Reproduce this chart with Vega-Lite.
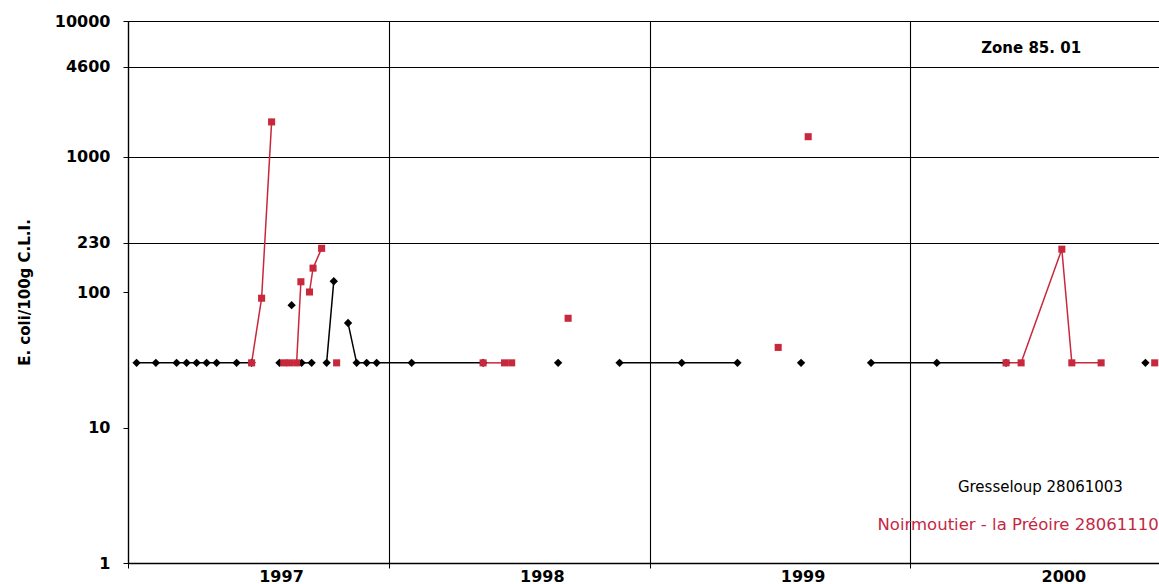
{
  "$schema": "https://vega.github.io/schema/vega-lite/v6.json",
  "width": 1031,
  "height": 542,
  "autosize": {"type": "none"},
  "padding": {"left": 128, "top": 21, "right": 0, "bottom": 21},
  "background": "white",
  "config": {"view": {"stroke": null}, "font": "DejaVu Sans"},
  "datasets": {
    "obs": [
      {"date": "1997-01-13", "value": 30, "series": "Gresseloup 28061003", "seg": "g1"},
      {"date": "1997-02-09", "value": 30, "series": "Gresseloup 28061003", "seg": "g1"},
      {"date": "1997-03-10", "value": 30, "series": "Gresseloup 28061003", "seg": "g1"},
      {"date": "1997-03-24", "value": 30, "series": "Gresseloup 28061003", "seg": "g1"},
      {"date": "1997-04-07", "value": 30, "series": "Gresseloup 28061003", "seg": "g1"},
      {"date": "1997-04-21", "value": 30, "series": "Gresseloup 28061003", "seg": "g1"},
      {"date": "1997-05-05", "value": 30, "series": "Gresseloup 28061003", "seg": "g1"},
      {"date": "1997-06-02", "value": 30, "series": "Gresseloup 28061003", "seg": "g1"},
      {"date": "1997-06-23", "value": 30, "series": "Gresseloup 28061003", "seg": "g1"},
      {"date": "1997-08-01", "value": 30, "series": "Gresseloup 28061003", "seg": "g2"},
      {"date": "1997-08-18", "value": 80, "series": "Gresseloup 28061003", "seg": "g3"},
      {"date": "1997-09-01", "value": 30, "series": "Gresseloup 28061003", "seg": "g4"},
      {"date": "1997-09-15", "value": 30, "series": "Gresseloup 28061003", "seg": "g4"},
      {"date": "1997-10-06", "value": 30, "series": "Gresseloup 28061003", "seg": "g5"},
      {"date": "1997-10-16", "value": 120, "series": "Gresseloup 28061003", "seg": "g5"},
      {"date": "1997-11-05", "value": 59, "series": "Gresseloup 28061003", "seg": "g6"},
      {"date": "1997-11-17", "value": 30, "series": "Gresseloup 28061003", "seg": "g6"},
      {"date": "1997-12-01", "value": 30, "series": "Gresseloup 28061003", "seg": "g6"},
      {"date": "1997-12-15", "value": 30, "series": "Gresseloup 28061003", "seg": "g6"},
      {"date": "1998-02-02", "value": 30, "series": "Gresseloup 28061003", "seg": "g6"},
      {"date": "1998-05-13", "value": 30, "series": "Gresseloup 28061003", "seg": "g6"},
      {"date": "1998-08-26", "value": 30, "series": "Gresseloup 28061003", "seg": "g7"},
      {"date": "1998-11-20", "value": 30, "series": "Gresseloup 28061003", "seg": "g8"},
      {"date": "1999-02-15", "value": 30, "series": "Gresseloup 28061003", "seg": "g8"},
      {"date": "1999-05-04", "value": 30, "series": "Gresseloup 28061003", "seg": "g8"},
      {"date": "1999-08-01", "value": 30, "series": "Gresseloup 28061003", "seg": "g9"},
      {"date": "1999-11-07", "value": 30, "series": "Gresseloup 28061003", "seg": "g10"},
      {"date": "2000-02-07", "value": 30, "series": "Gresseloup 28061003", "seg": "g10"},
      {"date": "2000-05-14", "value": 30, "series": "Gresseloup 28061003", "seg": "g10"},
      {"date": "2000-11-25", "value": 30, "series": "Gresseloup 28061003", "seg": "g11"},
      {"date": "1997-06-23", "value": 30, "series": "Noirmoutier - la Préoire 28061110", "seg": "n1"},
      {"date": "1997-07-07", "value": 90, "series": "Noirmoutier - la Préoire 28061110", "seg": "n1"},
      {"date": "1997-07-21", "value": 1800, "series": "Noirmoutier - la Préoire 28061110", "seg": "n1"},
      {"date": "1997-08-07", "value": 30, "series": "Noirmoutier - la Préoire 28061110", "seg": "n2"},
      {"date": "1997-08-15", "value": 30, "series": "Noirmoutier - la Préoire 28061110", "seg": "n2"},
      {"date": "1997-08-25", "value": 30, "series": "Noirmoutier - la Préoire 28061110", "seg": "n2"},
      {"date": "1997-08-31", "value": 119, "series": "Noirmoutier - la Préoire 28061110", "seg": "n2"},
      {"date": "1997-09-12", "value": 100, "series": "Noirmoutier - la Préoire 28061110", "seg": "n3"},
      {"date": "1997-09-17", "value": 150, "series": "Noirmoutier - la Préoire 28061110", "seg": "n3"},
      {"date": "1997-09-29", "value": 210, "series": "Noirmoutier - la Préoire 28061110", "seg": "n3"},
      {"date": "1997-10-20", "value": 30, "series": "Noirmoutier - la Préoire 28061110", "seg": "n4"},
      {"date": "1998-05-13", "value": 30, "series": "Noirmoutier - la Préoire 28061110", "seg": "n5"},
      {"date": "1998-06-12", "value": 30, "series": "Noirmoutier - la Préoire 28061110", "seg": "n5"},
      {"date": "1998-06-22", "value": 30, "series": "Noirmoutier - la Préoire 28061110", "seg": "n5"},
      {"date": "1998-09-09", "value": 64, "series": "Noirmoutier - la Préoire 28061110", "seg": "n6"},
      {"date": "1999-06-30", "value": 39, "series": "Noirmoutier - la Préoire 28061110", "seg": "n7"},
      {"date": "1999-08-11", "value": 1400, "series": "Noirmoutier - la Préoire 28061110", "seg": "n8"},
      {"date": "2000-05-14", "value": 30, "series": "Noirmoutier - la Préoire 28061110", "seg": "n9"},
      {"date": "2000-06-04", "value": 30, "series": "Noirmoutier - la Préoire 28061110", "seg": "n9"},
      {"date": "2000-07-31", "value": 207, "series": "Noirmoutier - la Préoire 28061110", "seg": "n9"},
      {"date": "2000-08-14", "value": 30, "series": "Noirmoutier - la Préoire 28061110", "seg": "n9"},
      {"date": "2000-09-24", "value": 30, "series": "Noirmoutier - la Préoire 28061110", "seg": "n9"},
      {"date": "2000-12-08", "value": 30, "series": "Noirmoutier - la Préoire 28061110", "seg": "n10"}
    ]
  },
  "encoding": {
    "x": {
      "field": "date",
      "type": "temporal",
      "scale": {
        "type": "utc",
        "domain": [
          {"year": 1997, "month": 1, "date": 1, "utc": true},
          {"year": 2000, "month": 12, "date": 14, "utc": true}
        ]
      },
      "axis": {
        "title": null,
        "values": [
          {"year": 1997, "month": 1, "date": 1, "utc": true},
          {"year": 1998, "month": 1, "date": 1, "utc": true},
          {"year": 1999, "month": 1, "date": 1, "utc": true},
          {"year": 2000, "month": 1, "date": 1, "utc": true}
        ],
        "format": "%Y",
        "grid": true,
        "gridColor": "#000000",
        "gridOpacity": 1,
        "gridWidth": 1.1,
        "domainColor": "#000000",
        "domainWidth": 1.3,
        "tickColor": "#000000",
        "tickSize": 5,
        "labelOffset": 153,
        "labelAlign": "center",
        "labelFlush": false,
        "labelBound": false,
        "labelOverlap": false,
        "labelPadding": 0,
        "labelFont": "DejaVu Sans",
        "labelFontWeight": "bold",
        "labelFontSize": 16,
        "labelColor": "#000000"
      }
    },
    "y": {
      "field": "value",
      "type": "quantitative",
      "scale": {"type": "log", "domain": [1, 10000]},
      "axis": {
        "title": "E. coli/100g C.L.I.",
        "values": [1, 10, 100, 230, 1000, 4600, 10000],
        "format": "d",
        "grid": true,
        "gridColor": "#000000",
        "gridWidth": 1.1,
        "gridOpacity": {"condition": {"test": "datum.value < 200", "value": 0}, "value": 1},
        "domainColor": "#000000",
        "domainWidth": 1.3,
        "tickColor": "#000000",
        "tickSize": 5,
        "labelPadding": 13,
        "labelOverlap": false,
        "labelFlush": false,
        "labelFont": "DejaVu Sans",
        "labelFontWeight": "bold",
        "labelFontSize": 16,
        "labelColor": "#000000",
        "titleFont": "DejaVu Sans",
        "titleFontWeight": "bold",
        "titleFontSize": 15,
        "titleColor": "#000000",
        "titlePadding": 22
      }
    }
  },
  "layer": [
    {
      "data": {"name": "obs"},
      "mark": {"type": "line", "strokeWidth": 1.5},
      "encoding": {
        "color": {
          "field": "series",
          "type": "nominal",
          "scale": {"domain": ["Gresseloup 28061003", "Noirmoutier - la Préoire 28061110"], "range": ["#000000", "#c8283c"]},
          "legend": null
        },
        "detail": {"field": "seg", "type": "nominal"}
      }
    },
    {
      "data": {"name": "obs"},
      "mark": {"type": "point", "filled": true, "opacity": 1},
      "encoding": {
        "color": {
          "field": "series",
          "type": "nominal",
          "scale": {"domain": ["Gresseloup 28061003", "Noirmoutier - la Préoire 28061110"], "range": ["#000000", "#c4283f"]},
          "legend": null
        },
        "shape": {
          "field": "series",
          "type": "nominal",
          "scale": {"domain": ["Gresseloup 28061003", "Noirmoutier - la Préoire 28061110"], "range": ["diamond", "square"]},
          "legend": null
        },
        "size": {
          "field": "series",
          "type": "nominal",
          "scale": {"domain": ["Gresseloup 28061003", "Noirmoutier - la Préoire 28061110"], "range": [70, 50]},
          "legend": null
        }
      }
    },
    {
      "data": {"values": [{"date": "2000-06-18", "value": 6300, "label": "Zone 85. 01"}]},
      "mark": {"type": "text", "font": "DejaVu Sans", "fontWeight": "bold", "fontSize": 15, "align": "center", "baseline": "middle", "color": "#000000"},
      "encoding": {"text": {"field": "label"}}
    },
    {
      "data": {"values": [{"date": "2000-07-01", "value": 3.64, "label": "Gresseloup 28061003"}]},
      "mark": {"type": "text", "font": "DejaVu Sans", "fontSize": 15, "align": "center", "baseline": "middle", "color": "#000000"},
      "encoding": {"text": {"field": "label"}}
    },
    {
      "data": {"values": [{"date": "1999-11-16", "value": 1.9, "label": "Noirmoutier - la Préoire 28061110"}]},
      "mark": {"type": "text", "font": "DejaVu Sans", "fontSize": 16.5, "align": "left", "baseline": "middle", "color": "#c4283f"},
      "encoding": {"text": {"field": "label"}}
    }
  ]
}
